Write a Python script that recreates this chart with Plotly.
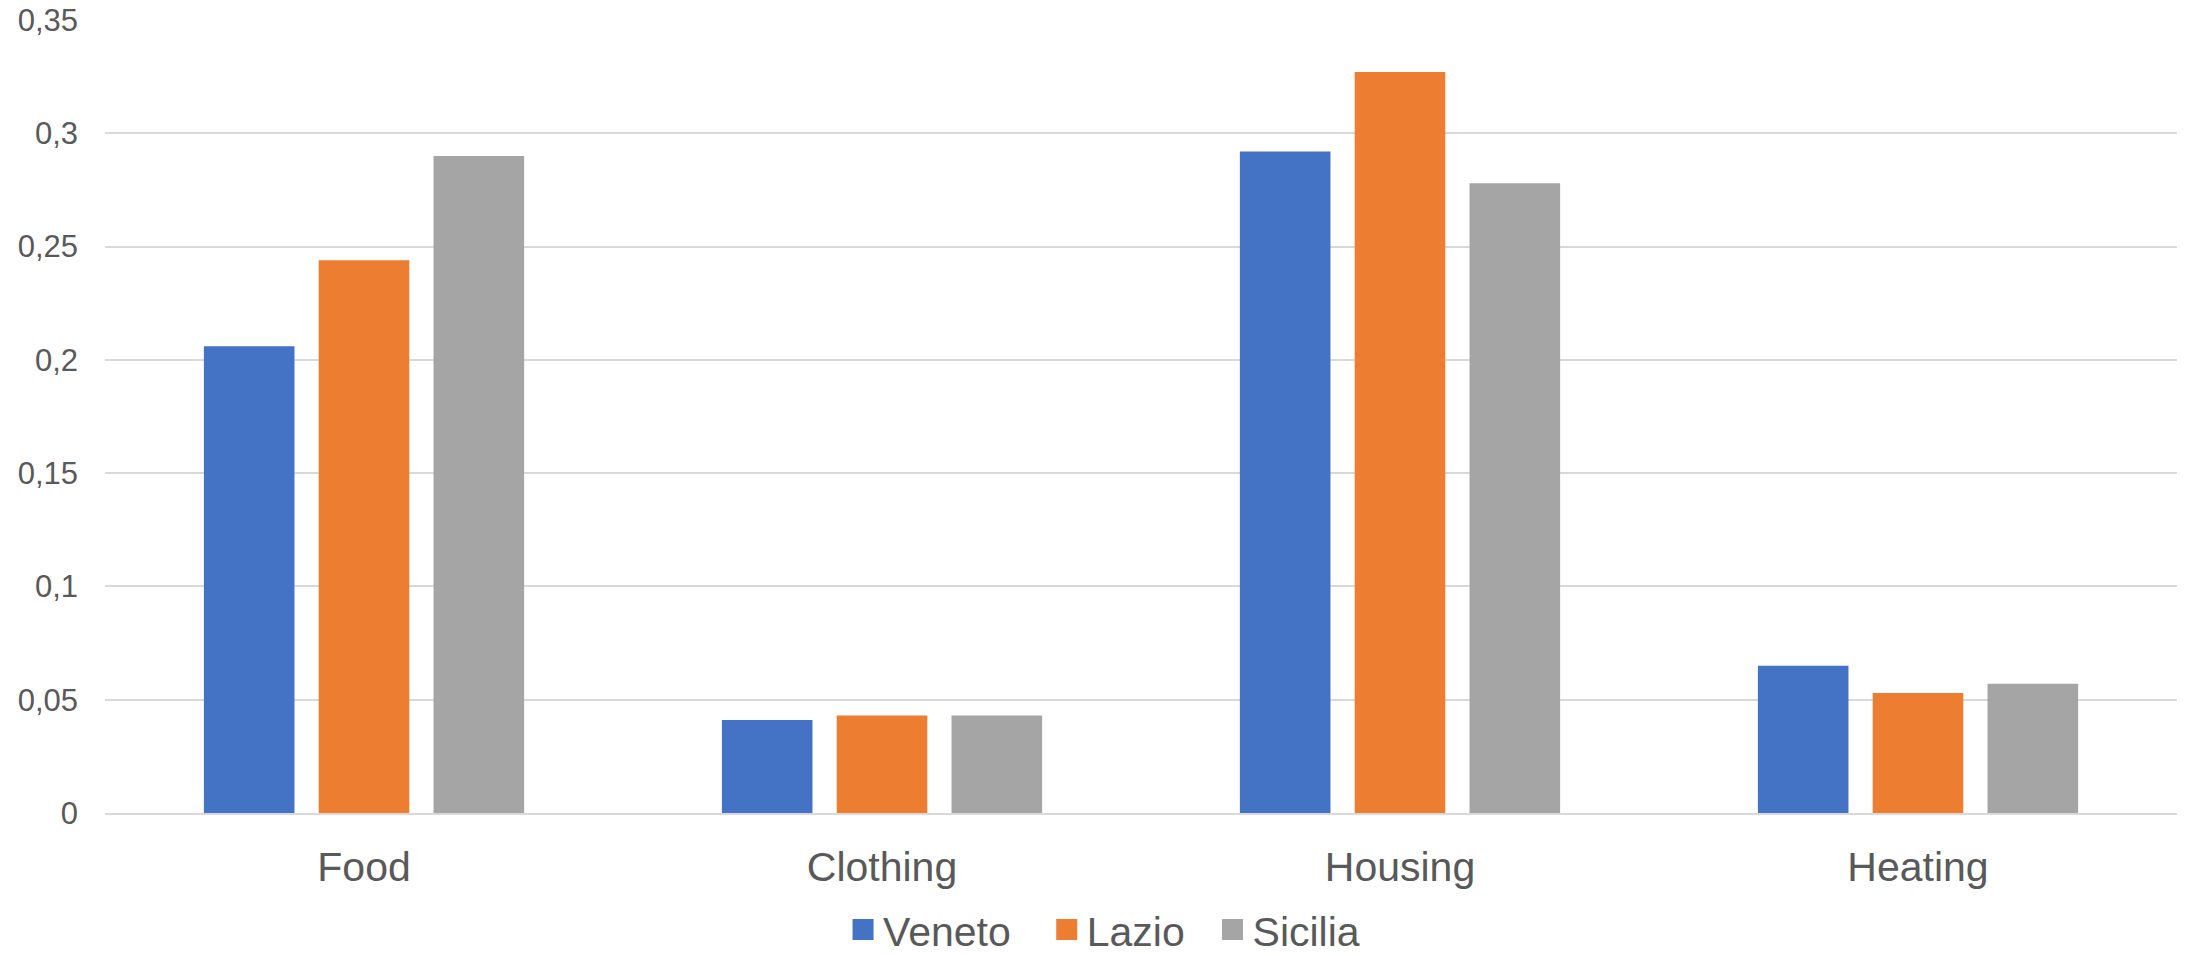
import plotly.graph_objects as go

# Expenditure shares by category and region
categories = ["Food", "Clothing", "Housing", "Heating"]
veneto = [0.206, 0.041, 0.292, 0.065]
lazio = [0.244, 0.043, 0.327, 0.053]
sicilia = [0.290, 0.043, 0.278, 0.057]

y_tick_values = [0, 0.05, 0.1, 0.15, 0.2, 0.25, 0.3, 0.35]
y_tick_labels = ["0", "0,05", "0,1", "0,15", "0,2", "0,25", "0,3", "0,35"]

series = [
    ("Veneto", veneto, "#4472C4"),
    ("Lazio", lazio, "#ED7D31"),
    ("Sicilia", sicilia, "#A5A5A5"),
]

FONT = "Liberation Sans, Arial, sans-serif"
TEXT = "#595959"
GRID = "#D9D9D9"
# extra room after each legend entry (none after the last one)
PADS = ["\u00a0\u00a0\u2009", "\u00a0\u00a0", ""]

fig = go.Figure()
for name, values, color in series:
    fig.add_trace(go.Bar(
        x=categories, y=values, name=name,
        marker=dict(color=color, line=dict(width=0)),
        showlegend=False,
    ))
# square legend keys
for (name, values, color), pad in zip(series, PADS):
    fig.add_trace(go.Scatter(
        x=[None], y=[None], mode="markers", name=name + pad,
        marker=dict(symbol="square", size=18, color=color,
                    line=dict(color=color, width=5)),
    ))

fig.update_layout(
    width=2190, height=955,
    margin=dict(l=105, r=13, t=20, b=142, autoexpand=False),
    paper_bgcolor="white", plot_bgcolor="white",
    barmode="group", bargap=0.335, bargroupgap=0.211,
    font=dict(family=FONT, color=TEXT),
    legend=dict(
        orientation="h", x=0.3562, xanchor="left", y=-0.1475, yanchor="middle",
        font=dict(size=41, color=TEXT, family=FONT),
        itemsizing="trace",
    ),
    xaxis=dict(
        showgrid=False, showline=True, linecolor=GRID, linewidth=1.5,
        ticks="", tickfont=dict(size=41, color=TEXT, family=FONT),
        ticklabelstandoff=17,
    ),
    yaxis=dict(
        range=[0, 0.35], tickvals=y_tick_values, ticktext=y_tick_labels,
        showgrid=True, gridcolor=GRID, gridwidth=1.5,
        zeroline=False, showline=False, ticks="",
        tickfont=dict(size=31, color=TEXT, family=FONT),
        ticklabelstandoff=26,
    ),
)

fig.write_html("out.html")
